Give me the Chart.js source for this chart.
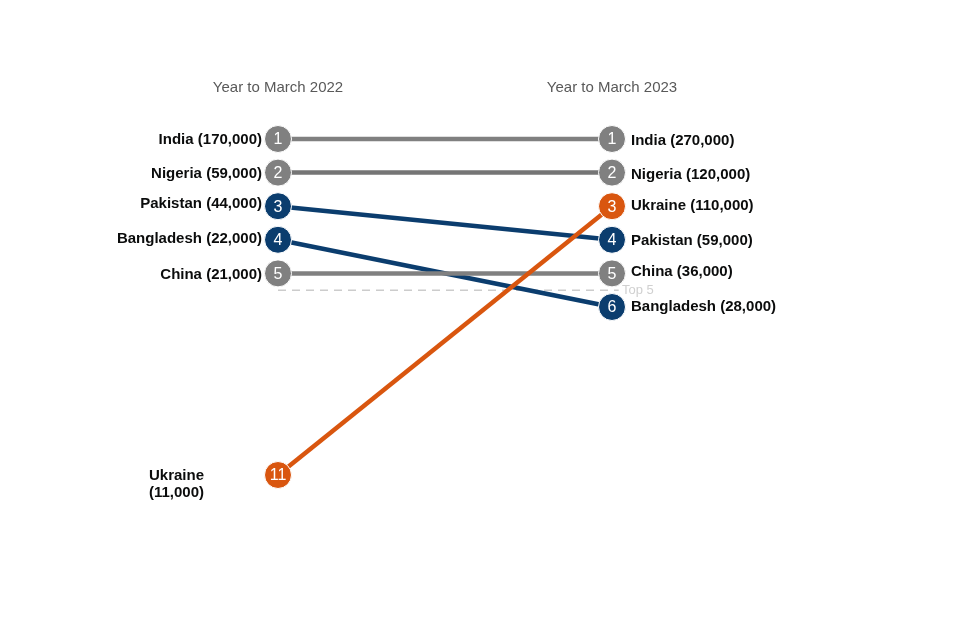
<!DOCTYPE html>
<html>
<head>
<meta charset="utf-8">
<script src="https://cdn.jsdelivr.net/npm/chart.js@4.4.1/dist/chart.umd.min.js"></script>
<style>
  body { margin: 0; background: #fff; }
  #wrap { width: 960px; height: 640px; }
</style>
</head>
<body>
<div id="wrap"><canvas id="slope" width="960" height="640"></canvas></div>
<script>
const countries = ["India", "Nigeria", "Pakistan", "Bangladesh", "China", "Ukraine"];
const rank2022 = [1, 2, 3, 4, 5, 11];
const rank2023 = [1, 2, 4, 6, 5, 3];
const value2022 = [170000, 59000, 44000, 22000, 21000, 11000];
const value2023 = [270000, 120000, 59000, 28000, 36000, 110000];
const periods = ["Year to March 2022", "Year to March 2023"];
const topCut = 5.5;

const GREY = "#808080";
const NAVY = "#0b3d6e";
const ORANGE = "#d9560f";
const colours = [GREY, "#757575", NAVY, NAVY, GREY, ORANGE];
const pointColours = [GREY, GREY, NAVY, NAVY, GREY, ORANGE];

const fmt = (n) => n.toLocaleString("en-GB");
const FONT = "'Liberation Sans', Arial, sans-serif";

// small vertical nudges for labels, like the original
const leftNudge = { Pakistan: -3, Bangladesh: -2 };
const rightNudge = { China: -2, India: 2, Nigeria: 2, Pakistan: 1 };

const datasets = countries.map((c, i) => ({
  label: c,
  data: [{ x: 0, y: rank2022[i] }, { x: 1, y: rank2023[i] }],
  borderColor: colours[i],
  borderWidth: 4.5,
  pointRadius: 13.5,
  pointHoverRadius: 13.5,
  pointBackgroundColor: pointColours[i],
  pointBorderColor: "#ffffff",
  pointBorderWidth: 1,
  order: c === "Ukraine" ? 0 : countries.length - i,
  clip: false
}));

datasets.push({
  label: "top5",
  data: [{ x: 0, y: topCut }, { x: 1.02, y: topCut }],
  borderColor: "#cccccc",
  borderWidth: 1.5,
  borderDash: [8, 6],
  pointRadius: 0,
  order: 20,
  clip: false
});

const slopeLabels = {
  id: "slopeLabels",
  afterDatasetsDraw(chart) {
    const ctx = chart.ctx;
    const xs = chart.scales.x;
    const ys = chart.scales.y;
    ctx.save();

    // column titles
    ctx.font = "15px " + FONT;
    ctx.fillStyle = "#595959";
    ctx.textAlign = "center";
    ctx.textBaseline = "middle";
    periods.forEach((p, i) => ctx.fillText(p, xs.getPixelForValue(i), 88));

    countries.forEach((c, i) => {
      const x0 = xs.getPixelForValue(0);
      const x1 = xs.getPixelForValue(1);
      const y0 = ys.getPixelForValue(rank2022[i]);
      const y1 = ys.getPixelForValue(rank2023[i]);

      // rank numbers inside circles
      ctx.font = "16px " + FONT;
      ctx.fillStyle = "#ffffff";
      ctx.textAlign = "center";
      ctx.fillText(String(rank2022[i]), x0, y0 + 1);
      ctx.fillText(String(rank2023[i]), x1, y1 + 1);

      // country labels
      ctx.font = "bold 15px " + FONT;
      ctx.fillStyle = "#0b0c0c";
      if (rank2022[i] > 5) {
        ctx.textAlign = "left";
        ctx.fillText(c, x0 - 129, y0 + 1);
        ctx.fillText("(" + fmt(value2022[i]) + ")", x0 - 129, y0 + 18);
      } else {
        ctx.textAlign = "right";
        ctx.fillText(c + " (" + fmt(value2022[i]) + ")", x0 - 16, y0 + 1 + (leftNudge[c] || 0));
      }
      ctx.textAlign = "left";
      ctx.fillText(c + " (" + fmt(value2023[i]) + ")", x1 + 19, y1 + (rightNudge[c] || 0));
    });

    // top 5 marker
    ctx.font = "13px " + FONT;
    ctx.fillStyle = "#d0d0d0";
    ctx.textAlign = "left";
    ctx.fillText("Top 5", xs.getPixelForValue(1) + 10, ys.getPixelForValue(topCut));
    ctx.restore();
  }
};

new Chart(document.getElementById("slope"), {
  type: "line",
  data: { datasets },
  options: {
    responsive: false,
    animation: false,
    devicePixelRatio: 1,
    layout: { padding: { left: 278, right: 348, top: 139, bottom: 165 } },
    scales: {
      x: { type: "linear", min: 0, max: 1, display: false },
      y: { type: "linear", min: 1, max: 11, reverse: true, display: false }
    },
    plugins: {
      legend: { display: false },
      tooltip: { enabled: false }
    }
  },
  plugins: [slopeLabels]
});
</script>
</body>
</html>
